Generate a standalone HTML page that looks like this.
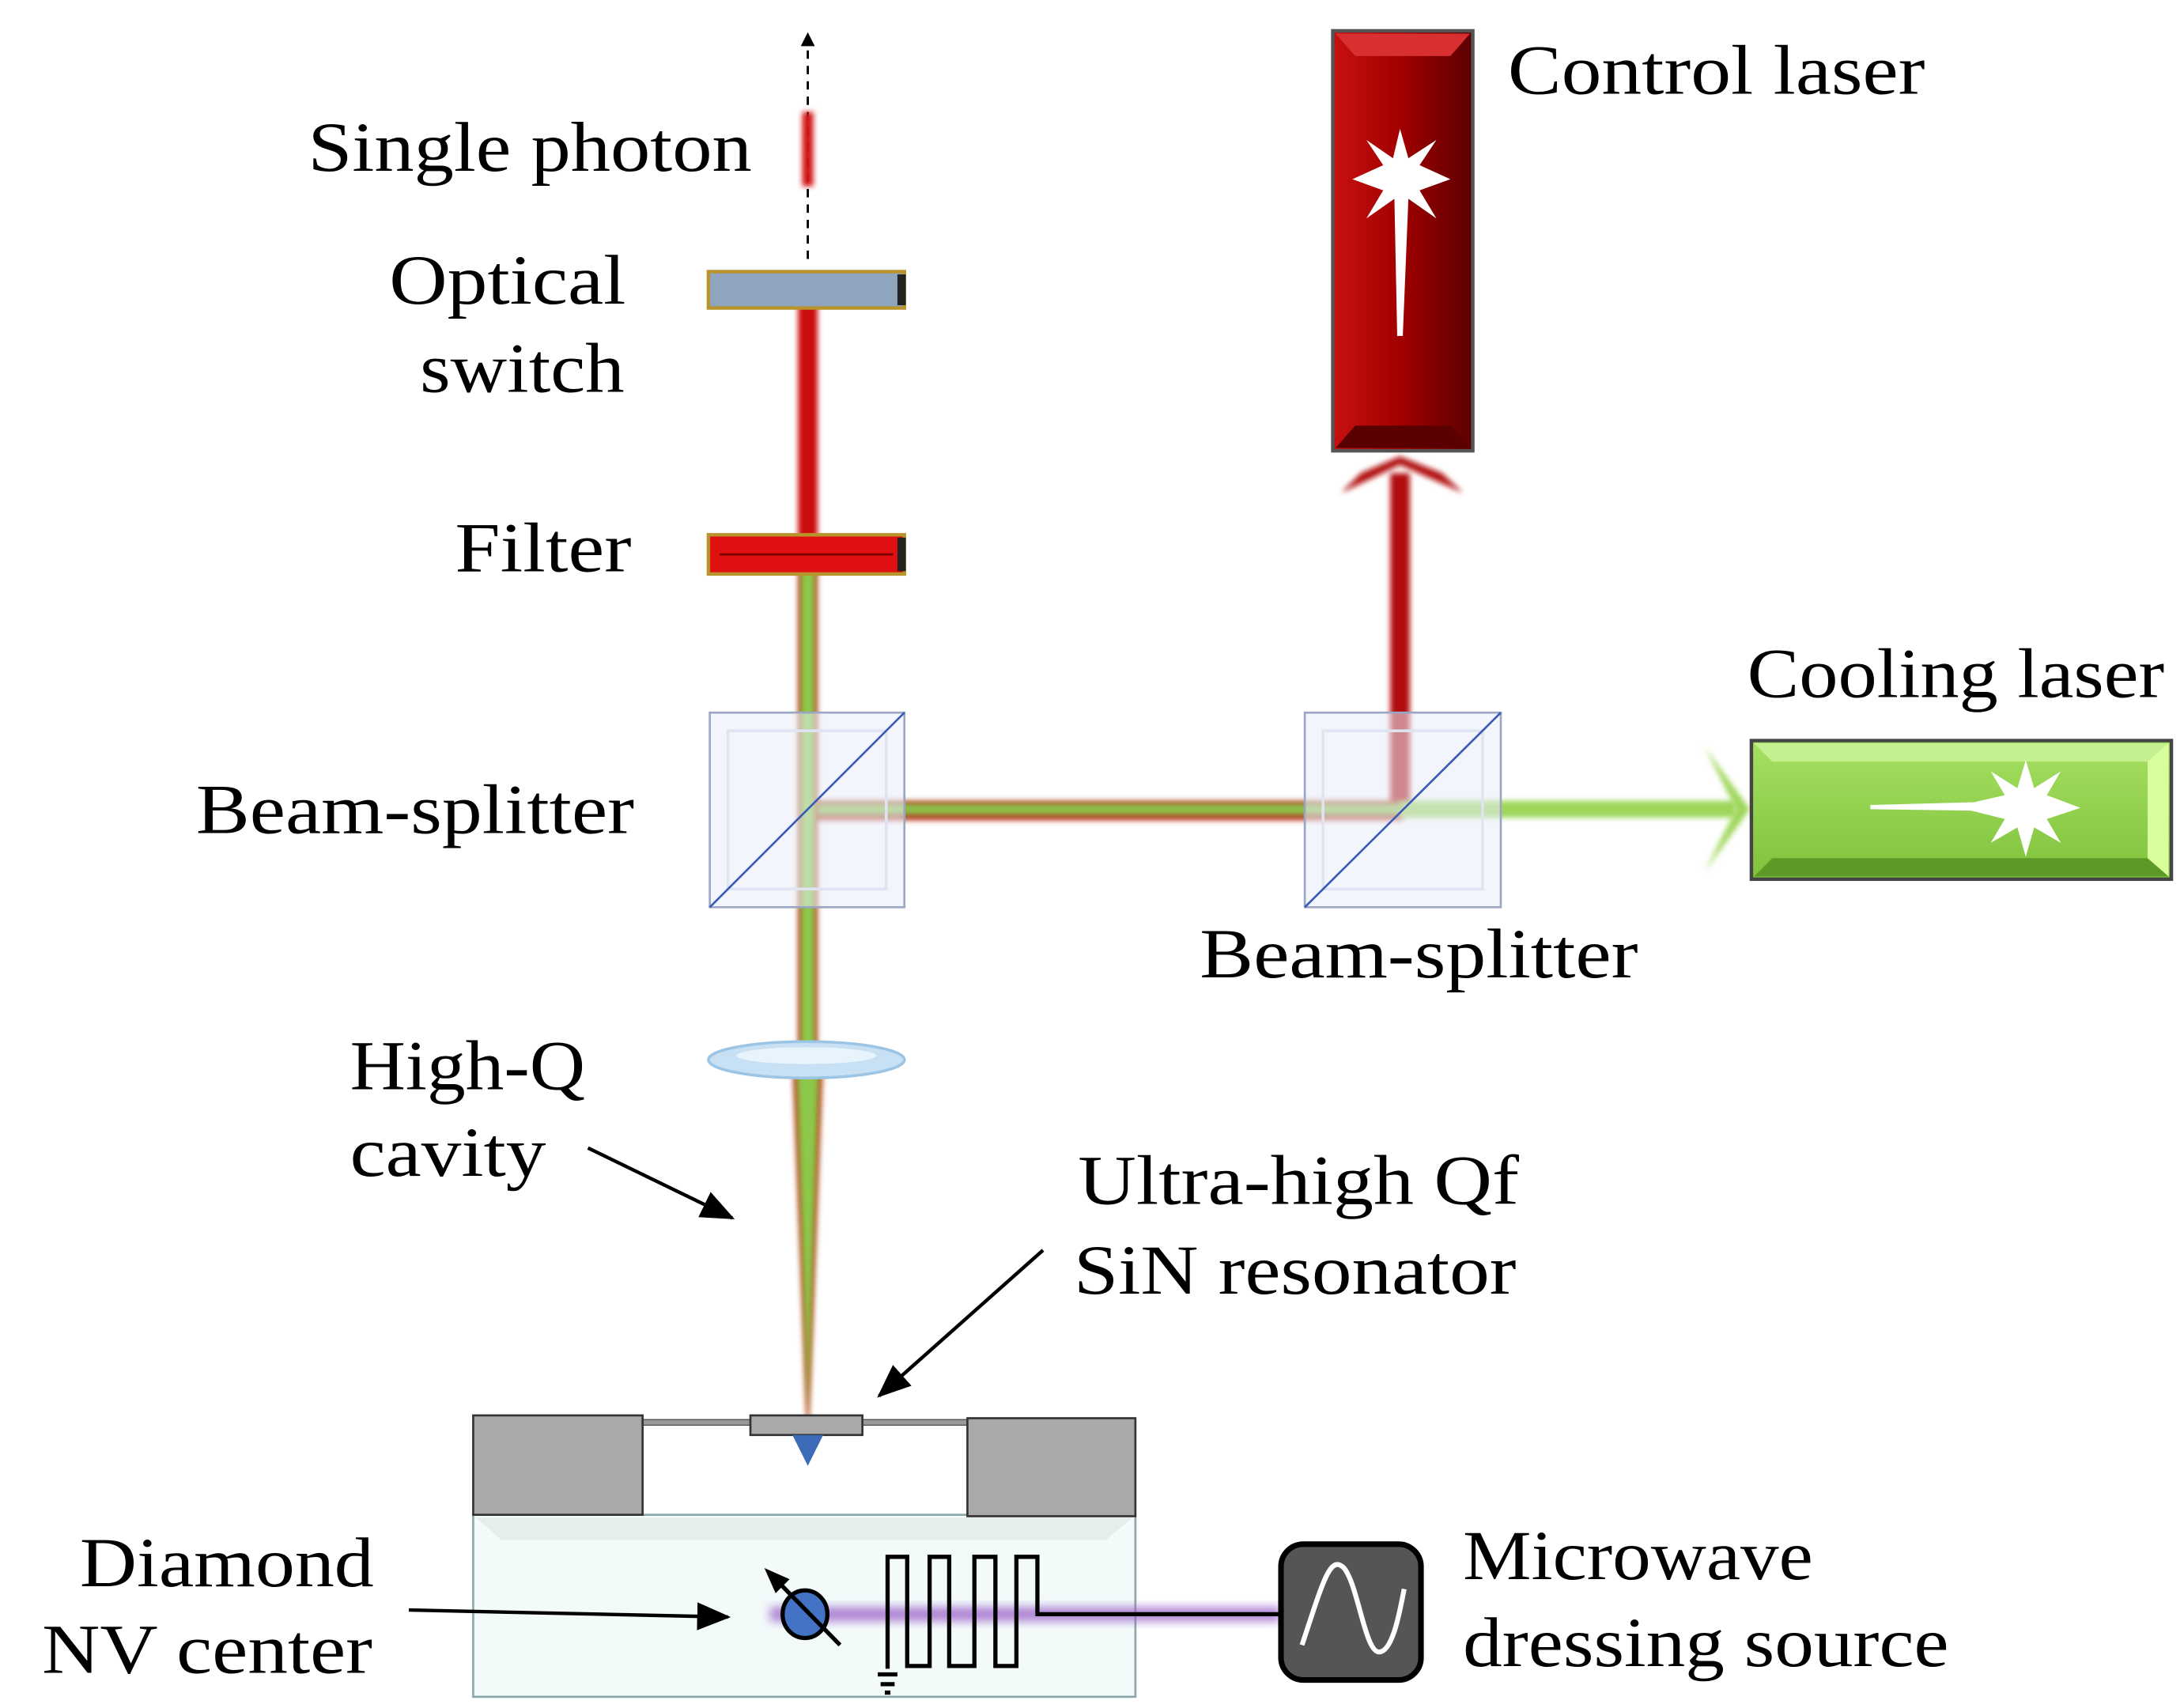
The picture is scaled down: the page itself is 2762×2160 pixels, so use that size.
<!DOCTYPE html>
<html><head><meta charset="utf-8"><style>html,body{margin:0;padding:0;background:#fff}svg{display:block}</style></head>
<body>
<svg width="2762" height="2160" viewBox="0 0 1560 1220" xmlns="http://www.w3.org/2000/svg" font-family="'Liberation Serif', serif" font-size="50" fill="#000">
<defs>
<filter id="b" x="-50%" y="-50%" width="200%" height="200%"><feGaussianBlur stdDeviation="2"/></filter>
<filter id="b4" x="-50%" y="-50%" width="200%" height="200%"><feGaussianBlur stdDeviation="3.5"/></filter>
<marker id="ah" markerWidth="10" markerHeight="10" refX="9" refY="5" orient="auto" markerUnits="userSpaceOnUse"><path d="M0,0 L10,5 L0,10 Z" fill="#000"/></marker>
<marker id="ab" markerWidth="24" markerHeight="20" refX="22" refY="10" orient="auto" markerUnits="userSpaceOnUse"><path d="M0,0 L24,10 L0,20 Z" fill="#000"/></marker>
<linearGradient id="red" x1="0" x2="1"><stop offset="0" stop-color="#c81010"/><stop offset="0.5" stop-color="#a00000"/><stop offset="1" stop-color="#5a0000"/></linearGradient>
<linearGradient id="grn" x1="0" x2="0" y1="0" y2="1"><stop offset="0" stop-color="#a6e062"/><stop offset="1" stop-color="#7fc23c"/></linearGradient>
</defs>

<line x1="577" y1="185" x2="577" y2="24" stroke="#000" stroke-width="1.6" stroke-dasharray="6,5" marker-end="url(#ah)"/>
<rect x="573" y="80" width="8" height="53" fill="#d01818" filter="url(#b)"/>

<rect x="993" y="338" width="14" height="240" fill="#b01010" filter="url(#b)"/>
<path d="M958,352 L1000,332 L1045,352 L1030,338 L1000,326 L972,338 Z" fill="#b01010" filter="url(#b)"/>
<rect x="577" y="572" width="425" height="14" fill="#b83a20" filter="url(#b)"/>
<rect x="577" y="574" width="425" height="8" fill="#8cc048" filter="url(#b)"/>
<rect x="1000" y="572" width="240" height="12" fill="#9ed65a" filter="url(#b)"/>
<path d="M1218,534 L1250,578 L1218,622 L1240,578 Z" fill="#9ed65a" filter="url(#b)"/>

<rect x="570" y="205" width="14" height="195" fill="#cc1010" filter="url(#b)"/>
<rect x="570" y="400" width="14" height="355" fill="#b84020" filter="url(#b)"/>
<rect x="572" y="400" width="10" height="355" fill="#8cc84a" filter="url(#b)"/>
<path d="M566,760 L588,760 L578,1015 L576,1015 Z" fill="#b84a24" filter="url(#b)"/>
<path d="M569,760 L585,760 L577,1012 Z" fill="#8cc84a" filter="url(#b)"/>

<rect x="506" y="194" width="140" height="26" fill="#8ea4bf" stroke="#b8942c" stroke-width="2.5"/>
<rect x="641" y="196" width="6" height="22" fill="#222"/>
<rect x="506" y="382" width="140" height="28" fill="#e01010" stroke="#b8942c" stroke-width="2.5"/>
<line x1="514" y1="396" x2="638" y2="396" stroke="#7a0000" stroke-width="1.5"/>
<rect x="641" y="384" width="6" height="24" fill="#222"/>

<g>
<rect x="507" y="509" width="139" height="139" fill="#e8ecf8" fill-opacity="0.55" stroke="#9aa6c2" stroke-width="1.5"/>
<rect x="520" y="522" width="113" height="113" fill="none" stroke="#dfe4f2" stroke-width="2"/>
<line x1="507" y1="648" x2="646" y2="509" stroke="#3a5ab8" stroke-width="1.5"/>
</g>
<g>
<rect x="932" y="509" width="140" height="139" fill="#e8ecf8" fill-opacity="0.55" stroke="#9aa6c2" stroke-width="1.5"/>
<rect x="945" y="522" width="114" height="113" fill="none" stroke="#dfe4f2" stroke-width="2"/>
<line x1="932" y1="648" x2="1072" y2="509" stroke="#3a5ab8" stroke-width="1.5"/>
</g>

<rect x="952" y="22" width="100" height="300" fill="url(#red)" stroke="#555" stroke-width="2.5"/>
<path d="M954,24 L1050,24 L1036,40 L968,40 Z" fill="#d83030"/>
<path d="M954,320 L1050,320 L1036,304 L968,304 Z" fill="#5a0000"/>
<path d="M1000,92 L1006,113 L1026,100 L1014,118 L1036,128 L1014,136 L1026,156 L1006,142 L1002,240 L998,240 L996,142 L976,156 L988,136 L966,128 L988,118 L976,100 L995,113 Z" fill="#fff"/>

<rect x="1251" y="529" width="300" height="99" fill="url(#grn)" stroke="#444" stroke-width="2.5"/>
<path d="M1253,531 L1549,531 L1534,544 L1266,544 Z" fill="#c4f090"/>
<path d="M1253,626 L1549,626 L1534,613 L1266,613 Z" fill="#5c9a28"/>
<path d="M1549,531 L1549,626 L1534,613 L1534,544 Z" fill="#d8ff9c"/>
<path d="M1447,543 L1453,563 L1472,551 L1462,568 L1486,577 L1462,585 L1472,602 L1453,591 L1447,612 L1441,591 L1422,602 L1432,585 L1408,579 L1336,578 L1336,575 L1410,573 L1432,568 L1422,551 L1441,563 Z" fill="#fff"/>

<ellipse cx="576" cy="757" rx="70" ry="13" fill="#c8e0f4" stroke="#9cc4e4" stroke-width="2"/>
<ellipse cx="576" cy="754" rx="50" ry="6" fill="#e8f4fc"/>

<!-- device -->
<rect x="338" y="1082" width="473" height="130" fill="#f3fafa" stroke="#8aa8a8" stroke-width="1.5"/>
<path d="M340,1084 L809,1084 L790,1100 L358,1100 Z" fill="#e4eeec"/>
<rect x="459" y="1014" width="232" height="4" fill="#999" stroke="#555" stroke-width="0.8"/>
<rect x="338" y="1011" width="121" height="71" fill="#a9a9a9" stroke="#333" stroke-width="1.5"/>
<rect x="691" y="1013" width="120" height="70" fill="#a9a9a9" stroke="#333" stroke-width="1.5"/>
<rect x="536" y="1011" width="80" height="14" fill="#a9a9a9" stroke="#333" stroke-width="1.5"/>
<path d="M566,1025 L588,1025 L577,1047 Z" fill="#3d6bb8"/>

<rect x="550" y="1148" width="365" height="10" fill="#9a60c8" filter="url(#b4)" opacity="0.8"/>
<path d="M634,1192 L634,1112 L648,1112 L648,1190 L664,1190 L664,1112 L678,1112 L678,1190 L696,1190 L696,1112 L711,1112 L711,1190 L726,1190 L726,1112 L741,1112 L741,1153 L915,1153" fill="none" stroke="#000" stroke-width="3"/>
<line x1="627" y1="1196" x2="641" y2="1196" stroke="#000" stroke-width="3"/>
<line x1="629" y1="1203" x2="639" y2="1203" stroke="#000" stroke-width="3"/>
<line x1="632" y1="1209" x2="636" y2="1209" stroke="#000" stroke-width="3"/>
<ellipse cx="575" cy="1153" rx="16" ry="17" fill="#4472c4" stroke="#000" stroke-width="3"/>
<line x1="600" y1="1175" x2="553" y2="1127" stroke="#000" stroke-width="3"/>
<path d="M546,1120 L564,1128 L554,1138 Z" fill="#000"/>
<rect x="915" y="1103" width="100" height="97" rx="16" fill="#555" stroke="#000" stroke-width="4"/>
<path d="M930,1175 C945,1130 950,1110 960,1120 C970,1132 975,1180 985,1180 C995,1180 1000,1150 1003,1135" fill="none" stroke="#fff" stroke-width="3.5"/>

<!-- arrows -->
<line x1="420" y1="820" x2="523" y2="870" stroke="#000" stroke-width="2.5" marker-end="url(#ab)"/>
<line x1="745" y1="893" x2="628" y2="997" stroke="#000" stroke-width="2.5" marker-end="url(#ab)"/>
<line x1="292" y1="1150" x2="520" y2="1155" stroke="#000" stroke-width="2.5" marker-end="url(#ab)"/>

<text x="220" y="122" textLength="317" lengthAdjust="spacingAndGlyphs">Single photon</text>
<text x="278" y="217" textLength="169" lengthAdjust="spacingAndGlyphs">Optical</text>
<text x="300" y="280" textLength="146" lengthAdjust="spacingAndGlyphs">switch</text>
<text x="325" y="408" textLength="126" lengthAdjust="spacingAndGlyphs">Filter</text>
<text x="140" y="595" textLength="313" lengthAdjust="spacingAndGlyphs">Beam-splitter</text>
<text x="857" y="698" textLength="313" lengthAdjust="spacingAndGlyphs">Beam-splitter</text>
<text x="1077" y="67" textLength="298" lengthAdjust="spacingAndGlyphs">Control laser</text>
<text x="1248" y="498" textLength="298" lengthAdjust="spacingAndGlyphs">Cooling laser</text>
<text x="250" y="778" textLength="168" lengthAdjust="spacingAndGlyphs">High-Q</text>
<text x="250" y="840" textLength="140" lengthAdjust="spacingAndGlyphs">cavity</text>
<text x="770" y="860" textLength="315" lengthAdjust="spacingAndGlyphs">Ultra-high Qf</text>
<text x="767" y="924" textLength="316" lengthAdjust="spacingAndGlyphs">SiN resonator</text>
<text x="57" y="1133" textLength="210" lengthAdjust="spacingAndGlyphs">Diamond</text>
<text x="30" y="1195" textLength="236" lengthAdjust="spacingAndGlyphs">NV center</text>
<text x="1045" y="1128" textLength="250" lengthAdjust="spacingAndGlyphs">Microwave</text>
<text x="1045" y="1190" textLength="347" lengthAdjust="spacingAndGlyphs">dressing source</text>
</svg>
</body></html>
